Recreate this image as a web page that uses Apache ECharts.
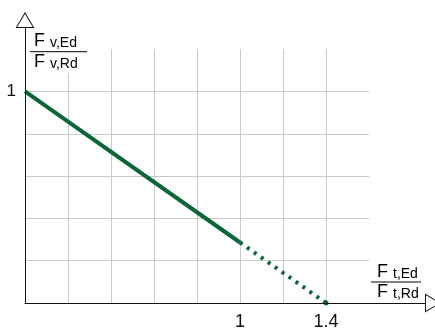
<!DOCTYPE html>
<html>
<head>
<meta charset="utf-8">
<script src="https://cdn.jsdelivr.net/npm/echarts@6/dist/echarts.min.js"></script>
<style>
  html, body { margin: 0; padding: 0; background: #fff; }
  #chart { width: 435px; height: 331px; }
</style>
</head>
<body>
<div id="chart"></div>
<script>
// Shear / tension interaction line (ratio of design force to resistance)
const solidPart = [[0, 1], [1, 0.286]];
const dottedPart = [[1, 0.286], [1.4, 0]];

// Grid line positions and the labelled ticks
const xGridValues = [0.2, 0.4, 0.6, 0.8, 1.0, 1.2, 1.4];
const yGridValues = [0.2, 0.4, 0.6, 0.8, 1.0];
const xTickLabels = [1, 1.4];
const yTickLabels = [1];
const gridExtentX = 1.6;
const gridExtentY = 1.2;

const GREEN = '#0b6536';
const GRID = '#c9c9c9';
const FONT = '"Liberation Sans", Arial, sans-serif';

// Hollow triangular arrow head (outer triangle minus inner triangle)
const hollowArrow = 'path://M10 0 L20 17 L0 17 Z M10 2 L1.75 16 L18.25 16 Z';

function pickLabel(list) {
  return function (v) {
    return list.some(function (l) { return Math.abs(l - v) < 1e-9; }) ? String(v) : '';
  };
}

const gridLines = xGridValues.map(function (v) {
  return [{ coord: [v, 0] }, { coord: [v, gridExtentY] }];
}).concat(yGridValues.map(function (v) {
  return [{ coord: [0, v] }, { coord: [gridExtentX, v] }];
}));

// Ratio label: F with a subscript, over a bar, over F with a subscript
function fraction(left, top, textInset, sub1, sub2, barWidth, barOffset, denomOffset) {
  const rich = {
    f: { fontSize: 18, fontFamily: FONT, color: '#000', verticalAlign: 'bottom', lineHeight: 18 },
    s: { fontSize: 14, fontFamily: FONT, color: '#000', verticalAlign: 'bottom', lineHeight: 14 }
  };
  return [
    {
      type: 'text', z: 20, x: left + textInset, y: top,
      style: { text: '{f|F }{s|' + sub1 + '}', rich: rich }
    },
    {
      type: 'line', z: 20,
      shape: { x1: left, y1: top + barOffset, x2: left + barWidth, y2: top + barOffset },
      style: { stroke: '#000', lineWidth: 1 }
    },
    {
      type: 'text', z: 20, x: left + textInset, y: top + denomOffset,
      style: { text: '{f|F }{s|' + sub2 + '}', rich: rich }
    }
  ];
}

const chart = echarts.init(document.getElementById('chart'), null, { renderer: 'canvas' });

chart.setOption({
  animation: false,
  backgroundColor: '#fff',
  grid: { left: 25, right: 10, top: 28, bottom: 24, containLabel: false },
  xAxis: {
    type: 'value', min: 0, max: 1.86, interval: 0.2, z: 5,
    axisLine: {
      show: true, onZero: false,
      lineStyle: { color: '#111', width: 1 },
      symbol: ['none', hollowArrow], symbolSize: [19, 16], symbolOffset: [0, 8]
    },
    axisTick: { show: false },
    splitLine: { show: false },
    axisLabel: {
      fontSize: 18, fontFamily: FONT, color: '#111', margin: 10,
      formatter: pickLabel(xTickLabels)
    }
  },
  yAxis: {
    type: 'value', min: 0, max: 1.3, interval: 0.2, z: 5,
    axisLine: {
      show: true, onZero: false,
      lineStyle: { color: '#111', width: 1 },
      symbol: ['none', hollowArrow], symbolSize: [19, 16], symbolOffset: [0, 8]
    },
    axisTick: { show: false },
    splitLine: { show: false },
    axisLabel: {
      fontSize: 17, fontFamily: FONT, color: '#111', margin: 9,
      formatter: pickLabel(yTickLabels)
    }
  },
  series: [
    {
      type: 'line', data: [], silent: true, z: 1,
      markLine: {
        silent: true, z: 1, symbol: ['none', 'none'],
        label: { show: false },
        lineStyle: { color: GRID, width: 1, type: 'solid' },
        emphasis: { disabled: true },
        data: gridLines
      }
    },
    {
      type: 'line', data: solidPart, z: 3,
      showSymbol: false, silent: true,
      lineStyle: { color: GREEN, width: 4, cap: 'butt' }
    },
    {
      type: 'line', z: 3, silent: true,
      symbol: 'none', showSymbol: true,
      data: dottedPart.map(function (p, i) {
        return i === dottedPart.length - 1
          ? { value: p, symbol: 'circle', symbolSize: 5, itemStyle: { color: GREEN, borderWidth: 0 } }
          : { value: p };
      }),
      lineStyle: { color: GREEN, width: 4, type: [3, 5.5], cap: 'butt' }
    }
  ],
  graphic: [
    // white plate behind the vertical-axis ratio label
    { type: 'rect', z: 15, shape: { x: 28, y: 35, width: 61, height: 38 }, style: { fill: '#fff' } }
  ].concat(fraction(30, 32.3, 4, 'v,Ed', 'v,Rd', 57, 19.4, 20.5))
   .concat(fraction(371, 262.8, 6, 't,Ed', 't,Rd', 50, 19.2, 20))
});
</script>
</body>
</html>
